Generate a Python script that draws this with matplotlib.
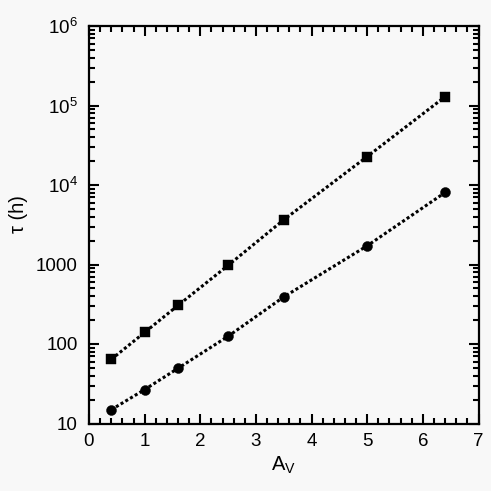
import matplotlib
matplotlib.use("Agg")
import matplotlib.pyplot as plt
from matplotlib.ticker import FixedLocator, FixedFormatter, LogLocator, MultipleLocator, NullFormatter

plt.rcParams['font.family'] = ['Liberation Sans', 'DejaVu Sans']
plt.rcParams['mathtext.fontset'] = 'custom'
plt.rcParams['mathtext.rm'] = 'Liberation Sans'
plt.rcParams['mathtext.it'] = 'Liberation Sans'
plt.rcParams['mathtext.bf'] = 'Liberation Sans:bold'

av = [0.4, 1.0, 1.6, 2.5, 3.5, 5.0, 6.4]
tau_squares = [64, 140, 306, 975, 3650, 22800, 129000]
tau_circles = [14.9, 26.7, 49.5, 125, 391, 1720, 8050]

yticks = [10, 100, 1000, 1e4, 1e5, 1e6]
ytick_labels = ['10', '100', '1000', r'10$^\mathregular{4}$', r'10$^\mathregular{5}$', r'10$^\mathregular{6}$']

bg = '#f8f8f8'
fig = plt.figure(figsize=(4.91, 4.91), dpi=100, facecolor=bg)
ax = fig.add_axes([89/491, 1-423.5/491, (478.5-89)/491, (423.5-26)/491])
ax.set_facecolor(bg)

ax.plot(av, tau_squares, linestyle=(0, (1, 0.8)), color='black', lw=2.2,
        marker='s', ms=7.2, mfc='black', mec='black', mew=0.3)
ax.plot(av, tau_circles, linestyle=(0, (1, 0.8)), color='black', lw=2.2,
        marker='o', ms=7.2, mfc='black', mec='black', mew=0.3)

ax.set_yscale('log')
ax.set_xlim(0, 7)
ax.set_ylim(10, 1e6)

ax.xaxis.set_major_locator(MultipleLocator(1))
ax.xaxis.set_minor_locator(MultipleLocator(0.2))
ax.yaxis.set_major_locator(FixedLocator(yticks))
ax.yaxis.set_major_formatter(FixedFormatter(ytick_labels))
ax.yaxis.set_minor_locator(LogLocator(base=10, subs=range(2, 10)))
ax.yaxis.set_minor_formatter(NullFormatter())

ax.tick_params(which='both', direction='in', top=True, right=True, width=1.5, colors='black')
ax.tick_params(which='major', length=7, labelsize=13.5)
ax.tick_params(axis='y', which='major', pad=8)
ax.tick_params(axis='x', which='major', pad=7)
ax.tick_params(which='minor', length=4)
for s in ax.spines.values():
    s.set_linewidth(1.6)

ax.set_xlabel(r'A$_\mathregular{V}$', fontsize=14.5, labelpad=3)
ax.set_ylabel('τ (h)', fontsize=14.5)
ax.yaxis.set_label_coords(-0.157, 0.527)

fig.savefig('out.png', dpi=100, facecolor=bg)
